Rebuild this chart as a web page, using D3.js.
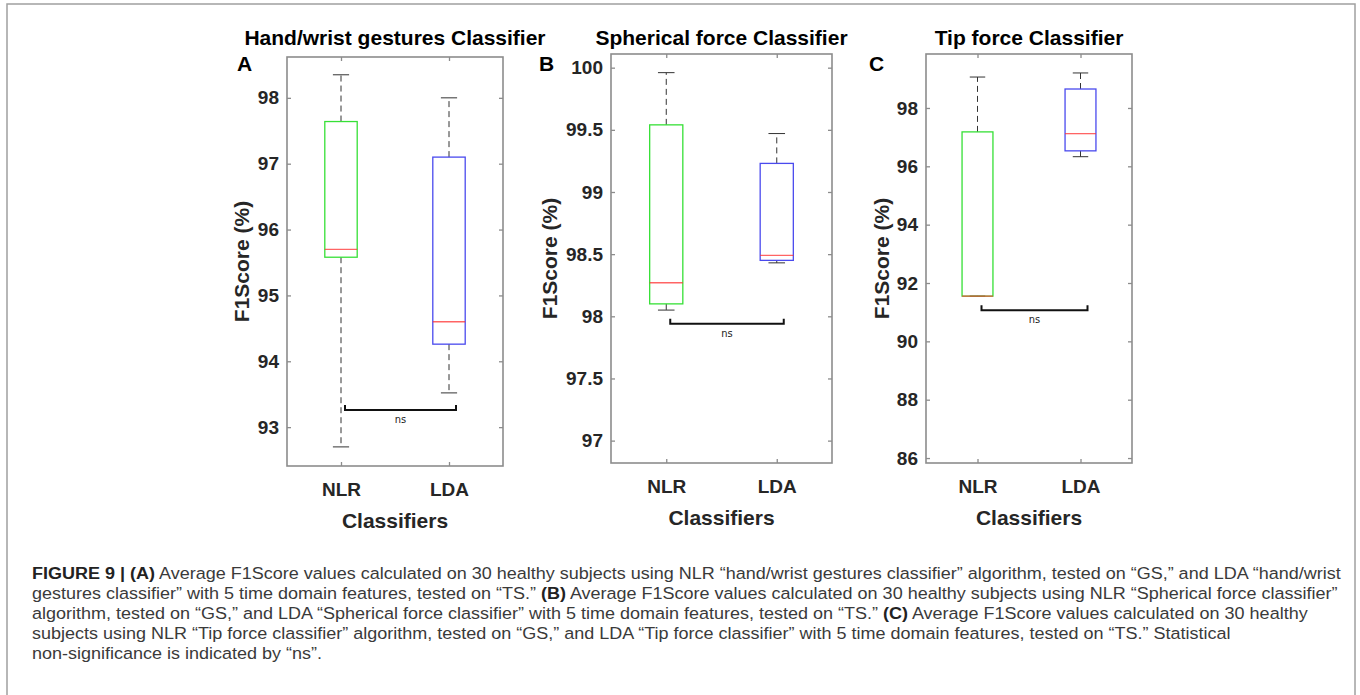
<!DOCTYPE html>
<html>
<head>
<meta charset="utf-8">
<script src="https://cdn.jsdelivr.net/npm/d3@7"></script>
<style>
  body { margin: 0; background: #fff; }
  svg { display: block; }
  text { font-family: 'Liberation Sans', Arial, sans-serif; }
</style>
</head>
<body>
<svg id="fig" width="1360" height="695"></svg>
<script>
var categories = ['NLR', 'LDA'];
var panelLetters = ['A', 'B', 'C'];
var panelTitles = ['Hand/wrist gestures Classifier', 'Spherical force Classifier', 'Tip force Classifier'];

// [lower whisker, q1, median, q3, upper whisker]
var handNLR = [92.70, 95.58, 95.70, 97.64, 98.35];
var handLDA = [93.52, 94.26, 94.60, 97.10, 98.00];
var sphereNLR = [98.05, 98.10, 98.27, 99.54, 99.96];
var sphereLDA = [98.43, 98.45, 98.49, 99.23, 99.47];
var tipNLR = [91.55, 91.55, 91.55, 97.18, 99.06];
var tipLDA = [96.33, 96.53, 97.12, 98.65, 99.20];

var handTicks = [93, 94, 95, 96, 97, 98];
var sphereTicks = [97, 97.5, 98, 98.5, 99, 99.5, 100];
var tipTicks = [86, 88, 90, 92, 94, 96, 98];

var handRange = [92.41, 98.62];
var sphereRange = [96.82, 100.11];
var tipRange = [85.83, 99.85];

// height of the "ns" bracket in each panel
var nsLevels = [93.26, 97.94, 91.07];

var yLabel = 'F1Score (%)';
var xLabel = 'Classifiers';
var nsText = 'ns';

// caption, one entry per line, [text, bold]
var captionLines = [
  [['FIGURE 9 | (A)', true], [' Average F1Score values calculated on 30 healthy subjects using NLR \u201chand/wrist gestures classifier\u201d algorithm, tested on \u201cGS,\u201d and LDA \u201chand/wrist', false]],
  [['gestures classifier\u201d with 5 time domain features, tested on \u201cTS.\u201d ', false], ['(B)', true], [' Average F1Score values calculated on 30 healthy subjects using NLR \u201cSpherical force classifier\u201d', false]],
  [['algorithm, tested on \u201cGS,\u201d and LDA \u201cSpherical force classifier\u201d with 5 time domain features, tested on \u201cTS.\u201d ', false], ['(C)', true], [' Average F1Score values calculated on 30 healthy', false]],
  [['subjects using NLR \u201cTip force classifier\u201d algorithm, tested on \u201cGS,\u201d and LDA \u201cTip force classifier\u201d with 5 time domain features, tested on \u201cTS.\u201d Statistical', false]],
  [['non-significance is indicated by \u201cns\u201d.', false]]
];

var panels = [
  {left: 287, right: 503, top: 57, bottom: 466, boxes: [handNLR, handLDA], ticks: handTicks, range: handRange, letterDx: 50, ylabDx: 45},
  {left: 611, right: 832, top: 54, bottom: 463, boxes: [sphereNLR, sphereLDA], ticks: sphereTicks, range: sphereRange, letterDx: 72, ylabDx: 61},
  {left: 926, right: 1132, top: 54, bottom: 463, boxes: [tipNLR, tipLDA], ticks: tipTicks, range: tipRange, letterDx: 57, ylabDx: 44}
];

var boxColors = ['#36e036', '#4a4aee'];
var axisGrey = '#8c8c8c';

var svg = d3.select('#fig');

// outer frame of the figure
svg.append('rect')
    .attr('x', 7).attr('y', 4)
    .attr('width', 1348).attr('height', 720)
    .attr('fill', 'none')
    .attr('stroke', '#a0a0a0')
    .attr('stroke-width', 1.5);

panels.forEach(function(p, i) {
  var g = svg.append('g');
  var x = d3.scalePoint().domain(categories).range([p.left, p.right]).padding(0.5);
  var y = d3.scaleLinear().domain(p.range).range([p.bottom, p.top]);
  var bw = x.step() * 0.3;

  function styleAxis(sel) {
    sel.select('.domain').remove();
    sel.selectAll('.tick line').attr('stroke', axisGrey).attr('stroke-width', 1.3);
    sel.selectAll('.tick text')
        .attr('fill', '#262626')
        .style('font-size', '19px')
        .style('font-weight', 'bold');
  }

  g.append('g')
      .attr('transform', 'translate(' + p.left + ',0)')
      .call(d3.axisLeft(y).tickValues(p.ticks).tickSize(-4).tickPadding(8).tickFormat(d3.format('~g')))
      .call(styleAxis);
  g.append('g')
      .attr('transform', 'translate(' + p.right + ',0)')
      .call(d3.axisRight(y).tickValues(p.ticks).tickSize(-4).tickFormat(''))
      .call(styleAxis);
  g.append('g')
      .attr('transform', 'translate(0,' + p.top + ')')
      .call(d3.axisTop(x).tickSize(-4).tickFormat(''))
      .call(styleAxis);
  g.append('g')
      .attr('transform', 'translate(0,' + p.bottom + ')')
      .call(d3.axisBottom(x).tickSize(-4).tickPadding(17))
      .call(styleAxis);

  g.append('rect')
      .attr('x', p.left).attr('y', p.top)
      .attr('width', p.right - p.left).attr('height', p.bottom - p.top)
      .attr('fill', 'none')
      .attr('stroke', axisGrey)
      .attr('stroke-width', 1.6);

  var data = categories.map(function(c, j) { return {cat: c, v: p.boxes[j], color: boxColors[j]}; });
  var box = g.selectAll('.box').data(data).enter().append('g').attr('class', 'box');

  // whiskers
  box.append('line')
      .attr('x1', function(d) { return x(d.cat); })
      .attr('x2', function(d) { return x(d.cat); })
      .attr('y1', function(d) { return y(d.v[3]); })
      .attr('y2', function(d) { return y(d.v[4]); })
      .attr('stroke', '#333').attr('stroke-dasharray', '6,4');
  box.append('line')
      .attr('x1', function(d) { return x(d.cat); })
      .attr('x2', function(d) { return x(d.cat); })
      .attr('y1', function(d) { return y(d.v[1]); })
      .attr('y2', function(d) { return y(d.v[0]); })
      .attr('stroke', '#333').attr('stroke-dasharray', '6,4');
  [0, 4].forEach(function(k) {
    box.append('line')
        .attr('x1', function(d) { return x(d.cat) - bw / 4; })
        .attr('x2', function(d) { return x(d.cat) + bw / 4; })
        .attr('y1', function(d) { return y(d.v[k]); })
        .attr('y2', function(d) { return y(d.v[k]); })
        .attr('stroke', '#333');
  });

  box.append('rect')
      .attr('x', function(d) { return x(d.cat) - bw / 2; })
      .attr('y', function(d) { return y(d.v[3]); })
      .attr('width', bw)
      .attr('height', function(d) { return y(d.v[1]) - y(d.v[3]); })
      .attr('fill', 'none')
      .attr('stroke', function(d) { return d.color; })
      .attr('stroke-width', 1.3);
  box.append('line')
      .attr('x1', function(d) { return x(d.cat) - bw / 2; })
      .attr('x2', function(d) { return x(d.cat) + bw / 2; })
      .attr('y1', function(d) { return y(d.v[2]); })
      .attr('y2', function(d) { return y(d.v[2]); })
      .attr('stroke', '#ff3030')
      .attr('stroke-opacity', 0.75)
      .attr('stroke-width', 1.3);

  // ns bracket
  var by = y(nsLevels[i]);
  var bx0 = x(categories[0]) + 4, bx1 = x(categories[1]) + 7;
  g.append('path')
      .attr('d', 'M' + bx0 + ',' + (by - 5) + 'V' + by + 'H' + bx1 + 'V' + (by - 5))
      .attr('fill', 'none')
      .attr('stroke', '#111')
      .attr('stroke-width', 2);
  g.append('text')
      .attr('x', (bx0 + bx1) / 2)
      .attr('y', by + 13)
      .attr('text-anchor', 'middle')
      .style('font-family', "'DejaVu Sans Condensed', 'Liberation Sans Narrow', sans-serif")
      .style('font-size', '11px')
      .attr('fill', '#222')
      .text(nsText);

  // titles and labels
  g.append('text')
      .attr('x', (p.left + p.right) / 2)
      .attr('y', 45)
      .attr('text-anchor', 'middle')
      .style('font-size', '21px')
      .style('font-weight', 'bold')
      .attr('fill', '#000')
      .text(panelTitles[i]);
  g.append('text')
      .attr('x', p.left - p.letterDx)
      .attr('y', 71)
      .style('font-size', '21px')
      .style('font-weight', 'bold')
      .attr('fill', '#000')
      .text(panelLetters[i]);
  g.append('text')
      .attr('transform', 'translate(' + (p.left - p.ylabDx + 7) + ',' + ((p.top + p.bottom) / 2) + ') rotate(-90)')
      .attr('text-anchor', 'middle')
      .style('font-size', '21px')
      .style('font-weight', 'bold')
      .attr('fill', '#262626')
      .text(yLabel);
  g.append('text')
      .attr('x', (p.left + p.right) / 2)
      .attr('y', p.bottom + 62)
      .attr('text-anchor', 'middle')
      .style('font-size', '21px')
      .style('font-weight', 'bold')
      .attr('fill', '#262626')
      .text(xLabel);
});

// caption, squeezed horizontally so that the first line fills the width
var cap = svg.append('g');
var lines = cap.selectAll('text').data(captionLines).enter().append('text')
    .attr('x', 0).attr('y', 0)
    .style('font-size', '17px')
    .attr('fill', '#3a3a3a');
lines.selectAll('tspan').data(function(d) { return d; }).enter().append('tspan')
    .style('font-weight', function(d) { return d[1] ? 'bold' : 'normal'; })
    .attr('fill', function(d) { return d[1] ? '#222' : null; })
    .text(function(d) { return d[0]; });
var w0 = lines.node().getComputedTextLength();
var sx = 1309 / w0;
lines.attr('transform', function(d, k) { return 'translate(32,' + (579 + k * 20) + ') scale(' + sx + ',1)'; });
</script>
</body>
</html>
